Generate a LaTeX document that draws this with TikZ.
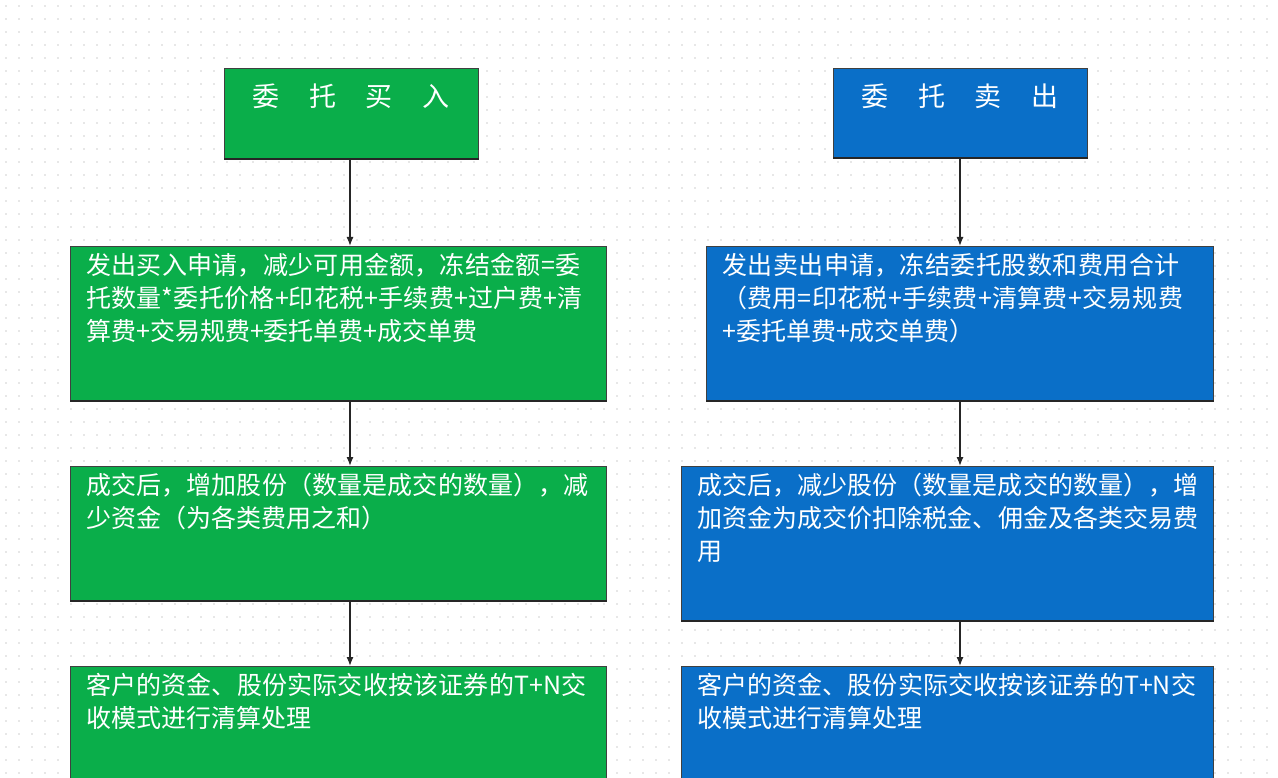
\documentclass[tikz,border=0pt]{standalone}
\usepackage{fontspec}
\usetikzlibrary{arrows.meta}
\newfontfamily\cjk{Noto Sans CJK SC}
\XeTeXlinebreaklocale "zh"
\XeTeXlinebreakskip=0pt plus 1pt
\definecolor{gbox}{HTML}{0AAE4A}
\definecolor{bbox}{HTML}{0A6FC8}
\begin{document}
\begin{tikzpicture}[x=1pt,y=-1pt,
  box/.style={draw=black!75,line width=1pt,anchor=north west,inner sep=0pt},
  txt/.style={anchor=north west,inner sep=0pt,align=left,text=white,font=\cjk\fontsize{25}{33}\selectfont},
  arr/.style={-{Latex[length=9pt,width=7pt]},line width=1.3pt,black!85}]
\fill[white] (0,0) rectangle (1278,778);
\useasboundingbox (0,0) rectangle (1278,778);
\foreach \i in {0,...,97}{\foreach \j in {0,...,59}{\fill[gray!80] (6+\i*13,6+\j*13) circle (0.7);}}
\node[box,fill=gbox,minimum width=254pt,minimum height=90pt] (b1) at (224,68) {};
\node[box,fill=gbox,minimum width=536pt,minimum height=154pt] (b2) at (70,246) {};
\node[box,fill=gbox,minimum width=536pt,minimum height=134pt] (b3) at (70,466) {};
\node[box,fill=gbox,minimum width=536pt,minimum height=125pt] (b4) at (70,666) {};
\node[box,fill=bbox,minimum width=254pt,minimum height=89pt] (s1) at (833,68) {};
\node[box,fill=bbox,minimum width=507pt,minimum height=154pt] (s2) at (706,246) {};
\node[box,fill=bbox,minimum width=532pt,minimum height=154pt] (s3) at (681,466) {};
\node[box,fill=bbox,minimum width=532pt,minimum height=125pt] (s4) at (681,666) {};
\foreach \n in {b1,b2,b3,b4,s1,s2,s3,s4}{\draw[black!85,line width=2.5pt] (\n.south west) -- (\n.south east);}
\node[anchor=center,text=white,font=\cjk\fontsize{27}{33}\selectfont] (t1) at (351,96) {委\hspace{1.1em}托\hspace{1.1em}买\hspace{1.1em}入};
\node[anchor=center,text=white,font=\cjk\fontsize{27}{33}\selectfont] (t5) at (960,96) {委\hspace{1.1em}托\hspace{1.1em}卖\hspace{1.1em}出};
\node[txt,text width=510pt] (t2) at (86,253) {发出买入申请，减少可用金额，冻结金额=委托数量*委托价格+印花税+手续费+过户费+清算费+交易规费+委托单费+成交单费};
\node[txt,text width=510pt] (t3) at (86,473) {成交后，增加股份（数量是成交的数量），减少资金（为各类费用之和）};
\node[txt,text width=510pt] (t4) at (86,673) {客户的资金、股份实际交收按该证券的T+N交收模式进行清算处理};
\node[txt,text width=480pt] (t6) at (722,253) {发出卖出申请，冻结委托股数和费用合计（费用=印花税+手续费+清算费+交易规费+委托单费+成交单费）};
\node[txt,text width=505pt] (t7) at (697,473) {成交后，减少股份（数量是成交的数量），增加资金为成交价扣除税金、佣金及各类交易费用};
\node[txt,text width=505pt] (t8) at (697,673) {客户的资金、股份实际交收按该证券的T+N交收模式进行清算处理};
\draw[arr] (b1.south -| 350,0) -- (b2.north -| 350,0);
\draw[arr] (b2.south -| 350,0) -- (b3.north -| 350,0);
\draw[arr] (b3.south -| 350,0) -- (b4.north -| 350,0);
\draw[arr] (s1.south -| 960,0) -- (s2.north -| 960,0);
\draw[arr] (s2.south -| 960,0) -- (s3.north -| 960,0);
\draw[arr] (s3.south -| 960,0) -- (s4.north -| 960,0);
\end{tikzpicture}
\end{document}
